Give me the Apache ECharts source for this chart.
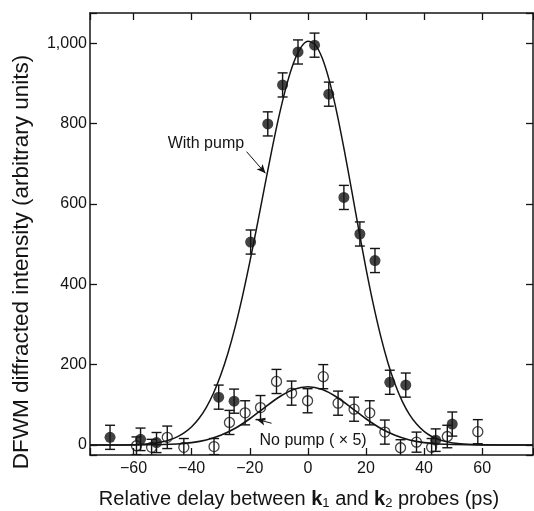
<!DOCTYPE html>
<html><head><meta charset="utf-8">
<script src="https://cdn.jsdelivr.net/npm/echarts@6/dist/echarts.min.js"></script>
<style>html,body{margin:0;padding:0;background:#fff}#c{width:534px;height:511px}</style>
</head><body><div id="c"></div>
<script>
// With pump (filled circles)
const pumpX   = [-68.1, -57.6, -52.1, -30.7, -25.4, -19.7, -13.8, -8.7, -3.4, 2.3, 7.2, 12.4, 17.9, 23.1, 28.2, 33.7, 44.0, 49.7];
const pumpY   = [19, 14, 6, 119, 109, 505, 799, 896, 978, 995, 873, 616, 525, 459, 156, 149, 12, 52];
const pumpErr = [30, 28, 25, 30, 30, 30, 30, 30, 30, 30, 30, 30, 30, 30, 30, 30, 28, 30];
// No pump (x5) (open circles)
const noX   = [-59.0, -53.8, -48.4, -42.7, -32.3, -27.0, -21.6, -16.3, -10.8, -5.6, -0.1, 5.3, 10.4, 15.9, 21.3, 26.5, 31.9, 37.4, 42.6, 48.0, 58.5];
const noY   = [-2, -6, 19, -6, -4, 56, 80, 93, 158, 129, 110, 170, 104, 89, 80, 32, -7, 7, -6, 21, 33];
const noErr = [22, 20, 28, 22, 20, 30, 30, 30, 30, 30, 30, 30, 30, 30, 30, 30, 20, 25, 22, 28, 30];
// Fitted curves
const fitPumpX = [-75, -60, -55, -50, -47.5, -45, -42.5, -40, -37.5, -35, -32.5, -30, -27.5, -25, -22.5, -20, -17.5, -15, -12.5, -10, -7.5, -5, -2.5, 0, 2.5, 5, 7.5, 10, 12.5, 15, 17.5, 20, 22.5, 25, 27.5, 30, 32.5, 35, 37.5, 40, 42.5, 45, 47.5, 50, 55, 60, 77.5];
const fitPumpY = [0, 0.6, 3.0, 8.2, 13.0, 20.2, 30.7, 45.5, 65.9, 93.2, 128.7, 173.8, 228.9, 294.6, 370.4, 454.8, 545.4, 638.8, 730.6, 816.3, 890.6, 949.2, 988.0, 1004.5, 996.3, 961.7, 903.5, 826.0, 734.9, 636.4, 536.2, 439.7, 350.9, 272.6, 206.0, 151.6, 108.5, 75.6, 51.3, 33.8, 21.7, 13.6, 8.3, 4.9, 1.6, 0.5, 0];
const fitNoX = [-75, -60, -50, -45, -40, -35, -30, -25, -20, -15, -10, -5, 0, 5, 10, 15, 20, 25, 30, 35, 40, 45, 50, 60, 77.5];
const fitNoY = [0, 0.1, 1.0, 2.5, 5.9, 12.5, 24.0, 41.5, 65.2, 92.5, 118.7, 137.9, 145, 137.9, 118.7, 92.5, 65.2, 41.5, 24.0, 12.5, 5.9, 2.5, 1.0, 0.1, 0];
// Axis ticks
const xTicks = [-60, -40, -20, 0, 20, 40, 60];
const yTicks = [0, 200, 400, 600, 800, 1000];
const labelWith = 'With pump';
const labelNo = 'No pump ( × 5)';

const INK = '#141414';
const FONT = 'Liberation Sans, Arial, Helvetica, sans-serif';
const zip = (a, b) => a.map((v, i) => [v, b[i]]);
const bars = (xs, ys, es) => xs.map((x, i) => [x, ys[i] - es[i], ys[i] + es[i]]);

function errRender(params, api) {
  const x = api.value(0);
  const p1 = api.coord([x, api.value(1)]);
  const p2 = api.coord([x, api.value(2)]);
  const w = 5;
  const st = { stroke: INK, lineWidth: 1.4 };
  return { type: 'group', children: [
    { type: 'line', shape: { x1: p1[0], y1: p1[1], x2: p2[0], y2: p2[1] }, style: st },
    { type: 'line', shape: { x1: p1[0] - w, y1: p1[1], x2: p1[0] + w, y2: p1[1] }, style: st },
    { type: 'line', shape: { x1: p2[0] - w, y1: p2[1], x2: p2[0] + w, y2: p2[1] }, style: st }
  ]};
}

const fmtX = v => xTicks.includes(v) ? (v < 0 ? '\u2212' + Math.abs(v) : String(v)) : '';
const fmtY = v => yTicks.includes(v) ? (v >= 1000 ? '1,' + String(v).slice(1) : String(v)) : '';

const axLine = { show: true, onZero: false, lineStyle: { color: INK, width: 1.5 } };
const axTick = { show: true, inside: true, length: 7, lineStyle: { color: INK, width: 1.3 } };

const chart = echarts.init(document.getElementById('c'), null, { renderer: 'canvas' });
chart.setOption({
  backgroundColor: '#fff',
  animation: false,
  grid: { left: 90, right: 1, top: 13, bottom: 56, containLabel: false, outerBoundsMode: 'none' },
  xAxis: [
    { type: 'value', position: 'bottom', min: -75, max: 77.5, splitNumber: 7,
      axisLine: axLine, axisTick: axTick, splitLine: { show: false },
      axisLabel: { formatter: fmtX, fontSize: 16, color: INK, fontFamily: FONT, margin: 6 },
      name: 'Relative delay between {b|k}{s|1} and {b|k}{s|2} probes (ps)',
      nameLocation: 'middle', nameGap: 34,
      nameTextStyle: { fontSize: 20, color: INK, fontFamily: FONT, padding: [0, 25, 0, 0],
        rich: { b: { fontSize: 20, fontWeight: 'bold', color: INK, fontFamily: FONT },
                s: { fontSize: 13, color: INK, fontFamily: FONT, padding: [8, 0, 0, 0] } } } },
    { type: 'value', position: 'top', min: -75, max: 77.5, splitNumber: 7,
      axisLine: axLine, axisTick: axTick, splitLine: { show: false }, axisLabel: { show: false } }
  ],
  yAxis: [
    { type: 'value', position: 'left', min: -25, max: 1075, splitNumber: 5,
      axisLine: axLine, axisTick: axTick, splitLine: { show: false },
      axisLabel: { formatter: fmtY, fontSize: 16, color: INK, fontFamily: FONT, margin: 3 },
      name: 'DFWM diffracted intensity (arbitrary units)', nameLocation: 'middle', nameGap: 57,
      nameTextStyle: { fontSize: 22.5, color: INK, fontFamily: FONT, padding: [0, 56, 0, 0] } },
    { type: 'value', position: 'right', min: -25, max: 1075, splitNumber: 5,
      axisLine: axLine, axisTick: axTick, splitLine: { show: false }, axisLabel: { show: false } }
  ],
  series: [
    { type: 'line', data: zip(fitPumpX, fitPumpY), smooth: 0.3, symbol: 'none', clip: true,
      lineStyle: { color: INK, width: 1.5 }, z: 2,
      markLine: { silent: true, symbol: ['none', 'arrow'], symbolSize: [6, 9], animation: false,
        lineStyle: { color: INK, width: 1, type: 'solid' }, label: { show: false },
        data: [[{ coord: [-21.1, 730] }, { coord: [-14.6, 676] }]] },
      markPoint: { silent: true, animation: false,
        data: [{ coord: [-35.1, 750], symbol: 'circle', symbolSize: 0,
          label: { show: true, position: 'inside', formatter: labelWith, fontSize: 16, color: INK, fontFamily: FONT } }] } },
    { type: 'line', data: zip(fitNoX, fitNoY), smooth: 0.3, symbol: 'none', clip: true,
      lineStyle: { color: INK, width: 1.6 }, z: 2,
      markLine: { silent: true, symbol: ['none', 'arrow'], symbolSize: [6, 9], animation: false,
        lineStyle: { color: INK, width: 1, type: 'solid' }, label: { show: false },
        data: [[{ coord: [-12.5, 54] }, { coord: [-17.7, 64] }]] },
      markPoint: { silent: true, animation: false,
        data: [{ coord: [1.8, 11], symbol: 'circle', symbolSize: 0,
          label: { show: true, position: 'inside', formatter: labelNo, fontSize: 16, color: INK, fontFamily: FONT } }] } },
    { type: 'custom', data: bars(noX, noY, noErr), renderItem: errRender, clip: true, z: 3 },
    { type: 'custom', data: bars(pumpX, pumpY, pumpErr), renderItem: errRender, clip: true, z: 3 },
    { type: 'scatter', data: zip(noX, noY), symbol: 'circle', symbolSize: 10, clip: true, z: 4,
      itemStyle: { color: 'rgba(255,255,255,0)', borderColor: INK, borderWidth: 1.3 } },
    { type: 'scatter', data: zip(pumpX, pumpY), symbol: 'circle', symbolSize: 11, clip: true, z: 5,
      itemStyle: { color: INK } }
  ]
});
</script></body></html>
